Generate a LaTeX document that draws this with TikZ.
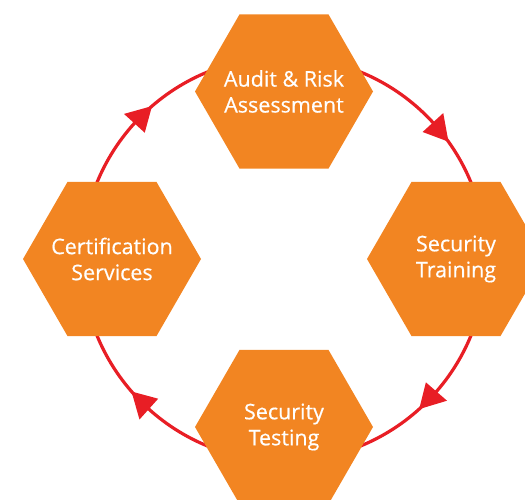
\documentclass[tikz,border=0pt]{standalone}
\usepackage{fontspec}
\setmainfont{Open Sans}
\newfontfamily\hexfont{Open Sans}[FakeBold=0.5]
\usetikzlibrary{shapes.geometric}
\definecolor{hexorange}{HTML}{F28522}
\definecolor{cyclered}{HTML}{E81E25}
\tikzset{
  hexbox/.style={regular polygon, regular polygon sides=6, minimum size=178pt,
    inner sep=0pt, outer sep=0pt, fill=hexorange},
  hextext/.style={text=white, align=center, inner sep=0pt,
    font=\hexfont\fontsize{21.5}{26}\selectfont},
  cycle/.style={draw=cyclered, line width=3.2pt},
  tip/.style={fill=cyclered}
}
\begin{document}
\begin{tikzpicture}[x=1pt,y=1pt]
  \useasboundingbox (0,0) rectangle (525,499);
  \clip (0,0) rectangle (525,499);
  \coordinate (c) at (284,240);
  % clockwise cycle with four arrowheads
  \draw[cycle] (c) circle (202);
  \begin{scope}[shift={(c)}]
    \fill[tip] (35.5:202) -- (42.5:188) -- (42.5:216) -- cycle;
    \fill[tip] (-48:202) -- (-41:188) -- (-41:216) -- cycle;
    \fill[tip] (221:202) -- (228:188) -- (228:216) -- cycle;
    \fill[tip] (130.8:202) -- (137.8:188) -- (137.8:216) -- cycle;
  \end{scope}
  % the four stages
  \node[hexbox] (audit) at (284,407.5) {};
  \node[hexbox] (training) at (456,240) {};
  \node[hexbox] (testing) at (284,72) {};
  \node[hexbox] (cert) at (112,240) {};
  \node[hextext] (audit-t) at (audit.center) {Audit \& Risk\\Assessment};
  \node[hextext] (training-t) at (training.center) {Security\\Training};
  \node[hextext] (testing-t) at (testing.center) {Security\\Testing};
  \node[hextext] (cert-t) at (cert.center) {Certification\\Services};
\end{tikzpicture}
\end{document}
